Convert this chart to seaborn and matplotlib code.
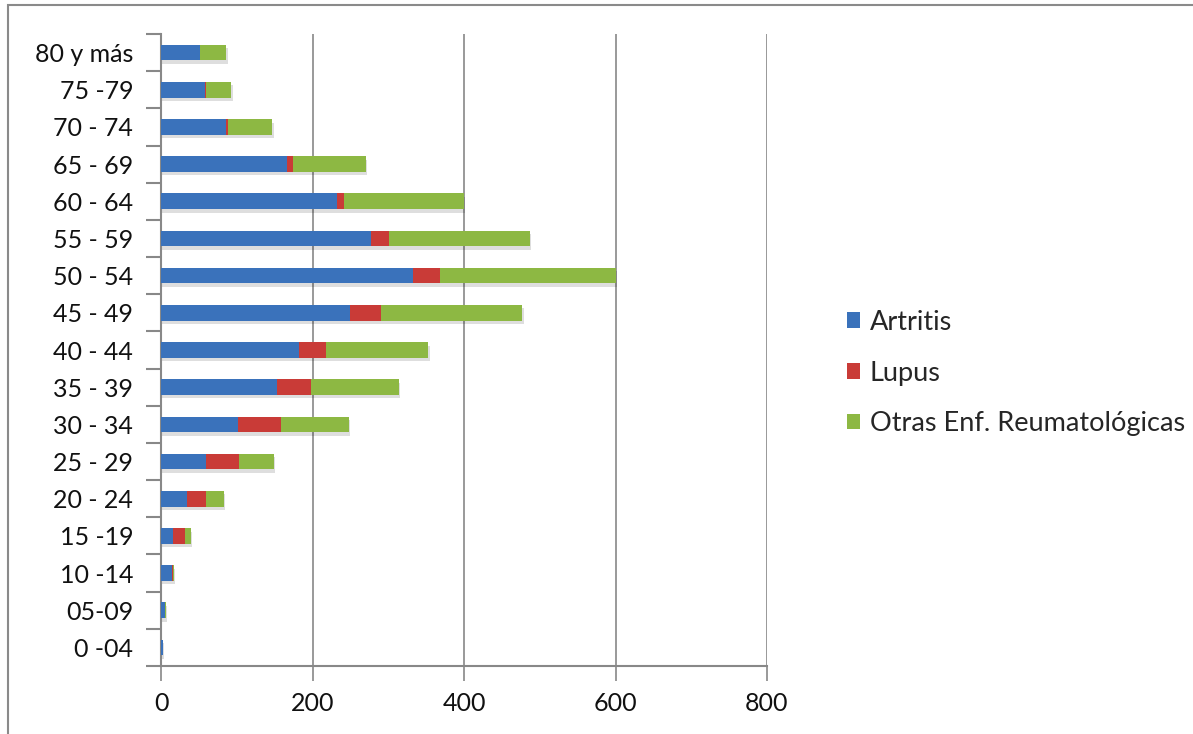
import matplotlib
matplotlib.use("Agg")
import matplotlib.pyplot as plt
import matplotlib.patheffects as pe
from matplotlib.patches import Patch, Rectangle
from matplotlib.ticker import FixedLocator
import numpy as np
import pandas as pd
import seaborn as sns

# Age groups (youngest first) and cases per condition
grupos = ["0 -04", "05-09", "10 -14", "15 -19", "20 - 24", "25 - 29", "30 - 34",
          "35 - 39", "40 - 44", "45 - 49", "50 - 54", "55 - 59", "60 - 64",
          "65 - 69", "70 - 74", "75 -79", "80 y más"]
artritis = [2, 5, 14, 16, 34, 60, 101, 153, 182, 250, 333, 277, 233, 166, 86, 58, 51]
lupus = [0, 0, 2, 16, 26, 43, 58, 45, 36, 40, 35, 24, 9, 8, 2, 2, 0]
otras = [0, 1, 1, 7, 23, 46, 89, 116, 135, 187, 232, 186, 158, 96, 59, 33, 35]

series = ["Artritis", "Lupus", "Otras Enf. Reumatológicas"]
colores = ["#3A72BB", "#C93B37", "#8DB843"]

df = pd.DataFrame({"grupo": grupos, "Artritis": artritis,
                   "Lupus": lupus, "Otras": otras})
df["c1"] = df["Artritis"]
df["c2"] = df["c1"] + df["Lupus"]
df["c3"] = df["c2"] + df["Otras"]

sns.set_style("white")
plt.rcParams["font.family"] = ["Lato", "DejaVu Sans"]

fig = plt.figure(figsize=(11.93, 7.34), dpi=100)
ax = fig.add_axes([161 / 1193, 68 / 734, 606 / 1193, 632 / 734])

orden = grupos[::-1]
sombra = [pe.SimplePatchShadow(offset=(1, -2.5), alpha=0.13, shadow_rgbFace="black"),
          pe.Normal()]
# stacked bars: draw cumulative totals from outermost to innermost
for col, color in zip(["c3", "c2", "c1"], colores[::-1]):
    sns.barplot(data=df, x=col, y="grupo", order=orden, orient="h",
                color=color, width=0.42, saturation=1, ax=ax, zorder=3)
for bar in ax.patches:
    bar.set_linewidth(0)
for bar in ax.patches[:len(grupos)]:
    bar.set_path_effects(sombra)

ax.set_xlim(0, 800)
ax.set_ylim(len(grupos) - 0.5, -0.5)
ax.set_xticks([0, 200, 400, 600, 800])
ax.set_xlabel("")
ax.set_ylabel("")

gris = "#888888"
ax.grid(axis="x", color=gris, linewidth=1.2, zorder=0)
ax.grid(axis="y", visible=False)
for lado in ["top", "right"]:
    ax.spines[lado].set_visible(False)
for lado in ["left", "bottom"]:
    ax.spines[lado].set_color(gris)
    ax.spines[lado].set_linewidth(1.5)

ax.yaxis.set_minor_locator(FixedLocator(np.arange(-0.5, len(grupos), 1.0)))
ax.tick_params(axis="y", which="major", length=0, pad=20, labelsize=18, labelcolor="#111111")
ax.tick_params(axis="y", which="minor", length=11, width=1.5, color=gris, direction="out", left=True)
ax.tick_params(axis="x", which="major", length=11, width=1.2, color=gris, direction="out",
               bottom=True, pad=8, labelsize=18, labelcolor="#111111")

handles = [Patch(facecolor=c, edgecolor="none") for c in colores]
fig.legend(handles, series, loc="center left", bbox_to_anchor=(836 / 1193, 361 / 734),
           frameon=False, fontsize=19.5, handlelength=0.5, handleheight=0.5,
           handletextpad=0.35, labelspacing=0.95, borderaxespad=0)

# outer chart border
fig.patches.append(Rectangle((8 / 1193, -0.05), 1.1, (729 / 734) + 0.05,
                             transform=fig.transFigure, fill=False,
                             edgecolor="#8a8a8a", linewidth=1.5))

fig.savefig("out.png", dpi=100)
